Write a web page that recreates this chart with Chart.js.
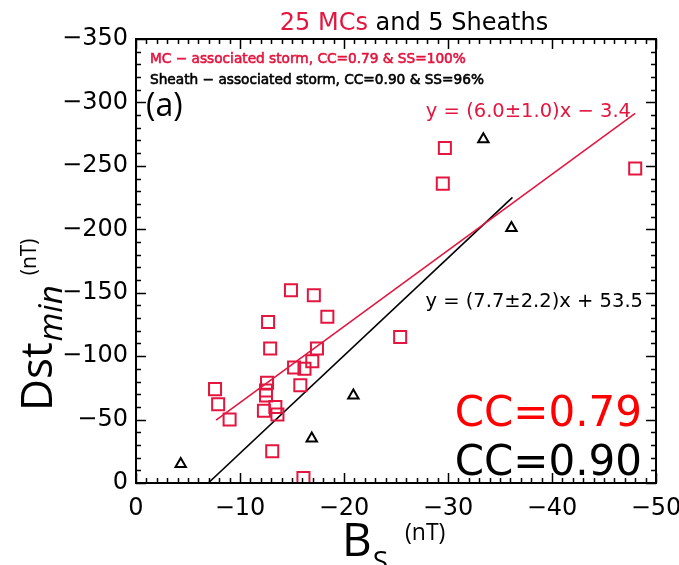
<!DOCTYPE html>
<html><head><meta charset="utf-8">
<script src="https://cdn.jsdelivr.net/npm/chart.js@4"></script>
<style>html,body{margin:0;padding:0;background:#fff;overflow:hidden}</style>
</head><body>
<canvas id="c" width="679" height="565"></canvas>
<script>
// ---- data ----
const mcBs  = [-14.9,-17.1,-18.4,-12.7,-12.9,-17.4,-16.95,-15.2,-16.2,-15.8,-12.6,-12.5,-12.5,-7.6,-7.9,-9.0,-12.3,-13.4,-13.6,-13.1,-16.1,-29.7,-29.5,-48.0,-25.4];
const mcDst = [-152,-148,-131,-127,-106,-106,-96,-91,-90,-77,-79,-73,-69,-74,-62,-50,-57,-60,-54,-25,-4,-264,-236,-248,-115];
const shBs  = [-4.3,-16.9,-20.9,-33.4,-36.1];
const shDst = [-15,-35,-69,-271,-201];
// regression line end points (y = 6.0x - 3.4 and y = 7.7x + 53.5)
const mcFitBs  = [-7.7, -48.0];
const mcFitDst = [-49.6, -291.4];
const shFitBs  = [-6.95, -36.2];
const shFitDst = [0, -225.2];
// axis ranges / ticks
const xRange = [-50, 0], xMajor = 10, xMinor = 1;
const yRange = [-350, 0], yMajor = 50, yMinor = 10;

const RED = '#e3163f';
const pts = (xs, ys) => xs.map((v, i) => ({x: v, y: ys[i]}));
const fmt = v => v === 0 ? '0' : '\u2212' + Math.abs(v);

const decor = {
  id: 'decor',
  afterDraw(chart) {
    const {ctx, chartArea: a, scales: {x, y}} = chart;
    ctx.save();
    ctx.strokeStyle = '#000';
    ctx.lineWidth = 1.5;
    ctx.beginPath();
    for (let v = xRange[0]; v <= xRange[1]; v += xMinor) {
      const px = Math.round(x.getPixelForValue(v)) + 0.5;
      const L = (Math.abs(v) % xMajor === 0) ? 10 : 5;
      ctx.moveTo(px, a.bottom); ctx.lineTo(px, a.bottom - L);
      ctx.moveTo(px, a.top); ctx.lineTo(px, a.top + L);
    }
    for (let v = yRange[0]; v <= yRange[1]; v += yMinor) {
      const py = Math.round(y.getPixelForValue(v)) + 0.5;
      const L = (Math.abs(v) % yMajor === 0) ? 10 : 5;
      ctx.moveTo(a.left, py); ctx.lineTo(a.left + L, py);
      ctx.moveTo(a.right, py); ctx.lineTo(a.right - L, py);
    }
    ctx.stroke();
    ctx.lineWidth = 2;
    ctx.strokeRect(a.left, a.top, a.right - a.left, a.bottom - a.top);

    // title
    ctx.textBaseline = 'alphabetic';
    ctx.textAlign = 'left';
    ctx.font = '24px "DejaVu Sans"';
    const t1 = '25 MCs', t2 = ' and 5 Sheaths';
    const w1 = ctx.measureText(t1).width, w2 = ctx.measureText(t2).width;
    let tx = 414 - (w1 + w2) / 2;
    ctx.fillStyle = RED; ctx.fillText(t1, tx, 30);
    ctx.fillStyle = '#000'; ctx.fillText(t2, tx + w1, 30);

    // legend texts (slightly emboldened)
    ctx.font = '13.7px "DejaVu Sans"';
    ctx.lineWidth = 0.6;
    const l1 = 'MC \u2212 associated storm, CC=0.79 & SS=100%';
    const l2 = 'Sheath \u2212 associated storm, CC=0.90 & SS=96%';
    ctx.fillStyle = RED; ctx.strokeStyle = RED;
    ctx.fillText(l1, 150, 63); ctx.strokeText(l1, 150, 63);
    ctx.fillStyle = '#000'; ctx.strokeStyle = '#000';
    ctx.fillText(l2, 150, 84); ctx.strokeText(l2, 150, 84);

    // (a)
    ctx.font = '32px "Open Sans"';
    ctx.fillText('(a)', 146, 116);

    // fit equations
    ctx.font = '19.5px "DejaVu Sans"';
    ctx.textAlign = 'right';
    ctx.fillStyle = RED;
    ctx.fillText('y = (6.0\u00b11.0)x \u2212 3.4', 631, 117);
    ctx.fillStyle = '#000';
    ctx.fillText('y = (7.7\u00b12.2)x + 53.5', 643, 307);

    // CC labels
    ctx.font = '42px "DejaVu Sans"';
    ctx.fillStyle = '#ff0000';
    ctx.fillText('CC=0.79', 642, 426);
    ctx.fillStyle = '#000';
    ctx.fillText('CC=0.90', 642, 475);

    // x title
    ctx.textAlign = 'left';
    ctx.font = '46px "Open Sans"';
    ctx.fillText('B', 342, 556);
    const bw = ctx.measureText('B').width;
    ctx.font = '28px "Open Sans"';
    ctx.fillText('S', 342 + bw + 1, 571);
    ctx.font = '23px "Open Sans"';
    ctx.fillText('(nT)', 405, 540);

    // y title (rotated)
    ctx.save();
    ctx.translate(52, 411);
    ctx.rotate(-Math.PI / 2);
    ctx.font = '44px "Open Sans"';
    ctx.fillText('Dst', 0, 0);
    const dw = ctx.measureText('Dst').width;
    ctx.font = 'italic 33px "Open Sans"';
    ctx.fillText('min', dw + 1, 10);
    const mw = ctx.measureText('min').width;
    ctx.font = '21px "Open Sans"';
    ctx.fillText('(nT)', dw + mw + 11, -16);
    ctx.restore();

    ctx.restore();
  }
};

new Chart(document.getElementById('c'), {
  type: 'scatter',
  data: {
    datasets: [
      {label: 'MCs', data: pts(mcBs, mcDst), pointStyle: 'rect', pointRadius: 8.5,
       borderColor: RED, backgroundColor: 'rgba(0,0,0,0)', borderWidth: 2},
      {label: 'Sheaths', data: pts(shBs, shDst), pointStyle: 'triangle', pointRadius: 6,
       borderColor: '#000', backgroundColor: 'rgba(0,0,0,0)', borderWidth: 2},
      {label: 'MC fit', data: pts(mcFitBs, mcFitDst), showLine: true, pointRadius: 0,
       borderColor: RED, borderWidth: 1.6, fill: false},
      {label: 'Sheath fit', data: pts(shFitBs, shFitDst), showLine: true, pointRadius: 0,
       borderColor: '#000', borderWidth: 1.6, fill: false}
    ]
  },
  options: {
    responsive: false,
    animation: false,
    layout: {padding: {left: 0, top: 39, right: 23, bottom: 0}},
    plugins: {legend: {display: false}, tooltip: {enabled: false}},
    scales: {
      x: {
        type: 'linear', min: xRange[0], max: xRange[1], reverse: true,
        afterFit(s) { s.height = 82; s.paddingLeft = 0; s.paddingRight = 0; },
        grid: {display: false, drawTicks: false}, border: {display: false},
        ticks: {stepSize: xMajor, padding: 11, color: '#000', font: {family: 'DejaVu Sans', size: 24},
                callback: v => fmt(v), maxRotation: 0, autoSkip: false}
      },
      y: {
        type: 'linear', min: yRange[0], max: yRange[1], reverse: true,
        afterFit(s) { s.width = 136; s.paddingTop = 0; s.paddingBottom = 0; },
        grid: {display: false, drawTicks: false}, border: {display: false},
        ticks: {stepSize: yMajor, padding: 8, color: '#000', font: {family: 'DejaVu Sans', size: 24},
                callback: v => fmt(v), autoSkip: false}
      }
    }
  },
  plugins: [decor]
});
</script>
</body></html>
